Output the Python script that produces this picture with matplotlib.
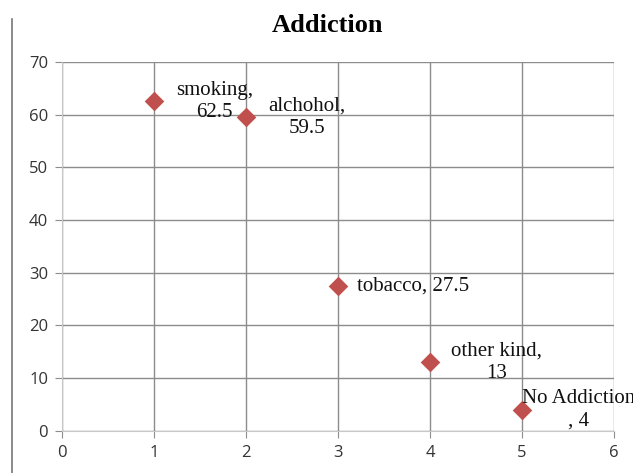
import matplotlib
matplotlib.use('Agg')
import matplotlib.pyplot as plt
from matplotlib.lines import Line2D

# 중독 유형별 점수
categories = ['smoking', 'alchohol', 'tobacco', 'other kind', 'No Addiction']
x_vals = [1, 2, 3, 4, 5]
y_vals = [62.5, 59.5, 27.5, 13, 4]
x_ticks = [0, 1, 2, 3, 4, 5, 6]
y_ticks = [0, 10, 20, 30, 40, 50, 60, 70]

# 라벨 문구와 위치 (points)
label_texts = ['smoking,\n62.5', 'alchohol,\n59.5', 'tobacco, 27.5',
               'other kind,\n13', 'No Addiction\n, 4']
label_offsets = [(16, 0), (16, 0), (14, 0), (15, 0), (0, 0)]

fig = plt.figure(figsize=(6.33, 4.73), dpi=100)
ax = fig.add_axes([0.098, 0.089, 0.872, 0.780])

ax.scatter(x_vals, y_vals, marker='D', s=100, color='#C0504D', zorder=3,
           linewidths=0)

for x, y, txt, off in zip(x_vals, y_vals, label_texts, label_offsets):
    ax.annotate(txt, (x, y), xytext=off, textcoords='offset points',
                ha='left', va='center', multialignment='center',
                fontsize=15, family='Liberation Serif', color='#111111',
                linespacing=1.2, annotation_clip=False)

ax.set_xlim(0, 6)
ax.set_ylim(0, 70)
ax.set_xticks(x_ticks)
ax.set_yticks(y_ticks)
ax.grid(True, color='#8c8c8c', linewidth=1.0)
ax.set_axisbelow(True)
for side in ['top', 'right']:
    ax.spines[side].set_visible(False)
for side in ['left', 'bottom']:
    ax.spines[side].set_color('#c8c8c8')
ax.tick_params(direction='out', length=5, color='#8c8c8c', labelsize=12,
               labelcolor='#333333', pad=5)
for lbl in ax.get_xticklabels() + ax.get_yticklabels():
    lbl.set_family('Open Sans')

fig.text(0.517, 0.947, 'Addiction', ha='center', va='center', fontsize=19,
         fontweight='bold', family='Liberation Serif')

# 왼쪽 테두리
fig.add_artist(Line2D([0.019, 0.019], [0.0, 0.96], color='#777777',
                      linewidth=1.2, transform=fig.transFigure))

fig.savefig('out.png', dpi=100)
